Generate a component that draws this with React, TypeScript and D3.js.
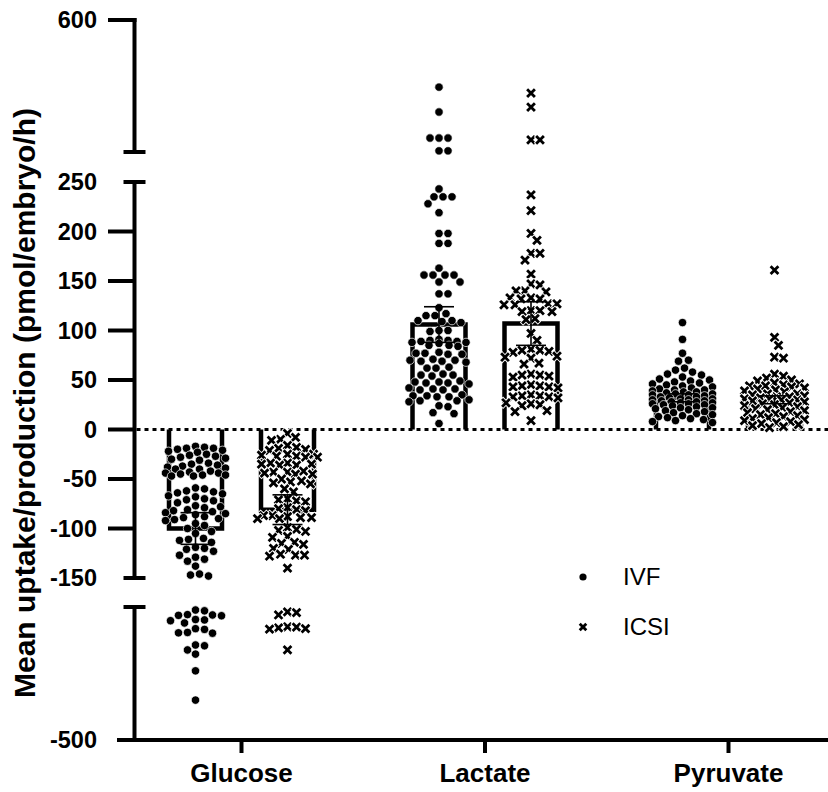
import { useMemo } from "react";
import * as d3 from "d3";

const CATEGORIES = ["Glucose", "Lactate", "Pyruvate"];
const GROUPS = ["IVF", "ICSI"];

// individual embryo values, pmol/embryo/h
const GLUCOSE_IVF = [
  -17, -18, -19, -19, -20, -21, -22, -23, -25, -26, -27, -28, -29, -30, -31,
  -34, -35, -36, -37, -38, -39, -40, -40, -42, -43, -44, -44, -45, -46, -46,
  -47, -47, -59, -60, -62, -63, -64, -65, -67, -68, -70, -71, -72, -74, -77,
  -78, -79, -81, -82, -83, -84, -85, -86, -88, -89, -90, -91, -92, -95, -97,
  -100, -103, -105, -110, -111, -112, -114, -119, -120, -121, -123, -127,
  -129, -131, -133, -138, -146, -147, -148, -158, -160, -170, -171, -172,
  -173, -183, -184, -186, -192, -207, -209, -217, -218, -219, -250, -252,
  -263, -274, -318, -395,
];
const GLUCOSE_ICSI = [
  -4, -8, -10, -11, -16, -18, -19, -20, -21, -25, -25, -26, -27, -27, -28,
  -28, -34, -34, -35, -35, -36, -36, -42, -43, -43, -44, -45, -45, -50, -52,
  -53, -54, -55, -60, -63, -70, -71, -72, -73, -79, -80, -81, -82, -87, -87,
  -88, -89, -89, -90, -90, -99, -101, -102, -103, -108, -109, -114, -115,
  -116, -120, -121, -126, -127, -127, -128, -140, -163, -165, -171, -202,
  -203, -205, -207, -208, -263,
];
const LACTATE_IVF = [
  422, 356, 287, 287, 287, 253, 253, 243, 235, 235, 235, 228, 219, 198, 198,
  188, 188, 163, 156, 156, 156, 156, 149, 149, 137, 137, 123, 117, 115, 115,
  110, 110, 109, 108, 100, 100, 99, 91, 90, 90, 89, 89, 88, 88, 87, 85, 85,
  84, 78, 77, 77, 76, 76, 71, 70, 70, 69, 69, 68, 63, 62, 62, 56, 55, 55, 54,
  49, 48, 48, 47, 47, 46, 42, 41, 41, 40, 40, 35, 34, 34, 33, 33, 30, 29, 29,
  28, 24, 23, 17, 16, 6,
];
const LACTATE_ICSI = [
  406, 369, 282, 282, 237, 221, 198, 191, 178, 178, 171, 157, 147, 146, 140,
  140, 139, 133, 133, 132, 132, 127, 127, 126, 126, 120, 120, 119, 119, 112,
  111, 97, 90, 81, 80, 80, 79, 78, 74, 73, 72, 67, 66, 56, 55, 55, 54, 53, 45,
  44, 44, 43, 43, 42, 35, 34, 34, 33, 33, 32, 27, 26, 25, 24, 19, 18, 9,
];
const PYRUVATE_IVF = [
  108, 91, 77, 70, 69, 62, 60, 58, 56, 55, 53, 51, 50, 49, 48, 47, 46, 45, 44,
  43, 42, 41, 40, 40, 39, 38, 38, 37, 36, 36, 35, 35, 34, 33, 33, 32, 31, 31,
  30, 30, 29, 29, 28, 28, 27, 27, 26, 26, 25, 25, 24, 23, 22, 22, 21, 20, 19,
  18, 17, 16, 15, 14, 13, 12, 11, 10, 9, 8, 7,
];
const PYRUVATE_ICSI = [
  161, 93, 85, 73, 72, 56, 54, 52, 50, 49, 47, 46, 45, 44, 44, 43, 42, 41, 40,
  39, 38, 36, 36, 35, 34, 33, 33, 32, 31, 31, 30, 30, 29, 28, 27, 26, 25, 24,
  23, 22, 21, 20, 19, 18, 17, 16, 15, 14, 13, 12, 11, 10, 9, 8, 7, 6, 5, 4, 3,
  2,
];

// bar heights (mean) and error bars, in category order
const IVF_MEAN = [-100, 106, 32];
const IVF_ERR = [16, 18, 4];
const ICSI_MEAN = [-81, 107, 30];
const ICSI_ERR = [15, 22, 4];

const TOP_TICKS = [600];
const BOTTOM_TICKS = [-500];

const W = 828;
const H = 792;
const AXIS_X = 134.5;
const BAR_W = 53;
const R = 4.2;
const FONT = "'Liberation Sans', Arial, sans-serif";

// three pieces of the broken y axis
const yTop = d3.scaleLinear().domain([250, 600]).range([152, 20]);
const yMid = d3.scaleLinear().domain([-150, 250]).range([578, 182]);
const yBot = d3.scaleLinear().domain([-500, -150]).range([740, 607]);
const y = (v: number) => (v > 250 ? yTop(v) : v >= -150 ? yMid(v) : yBot(v));

// simple beeswarm: offsets in px so markers don't sit on each other
function swarm(ys: number[], minDist: number, maxOff: number): number[] {
  const order = ys.map((_, i) => i).sort((a, b) => ys[a] - ys[b]);
  const placed: [number, number][] = [];
  const xs = new Array(ys.length).fill(0);
  for (const i of order) {
    const py = ys[i];
    let best = 0;
    let bestPen = Infinity;
    for (let k = 0; k <= maxOff * 2; k++) {
      const off = k % 2 === 1 ? (k + 1) / 2 : -k / 2;
      let pen = 0;
      for (const [qx, qy] of placed) {
        if (Math.abs(qy - py) >= minDist) continue;
        const d = Math.hypot(qx - off, qy - py);
        if (d < minDist) pen += minDist - d;
      }
      if (pen < bestPen - 1e-9) {
        bestPen = pen;
        best = off;
      }
      if (pen === 0) break;
    }
    xs[i] = best;
    placed.push([best, py]);
  }
  return xs;
}

const crossPath = (s: number) => `M${-s},${-s}L${s},${s}M${-s},${s}L${s},${-s}`;

function Dot({ x, y }: { x: number; y: number }) {
  return <circle cx={x} cy={y} r={R} fill="#000" stroke="#fff" strokeWidth={0.7} />;
}

function Cross({ x, y, s = 2.9 }: { x: number; y: number; s?: number }) {
  return (
    <g transform={`translate(${x},${y})`}>
      <path d={crossPath(s)} stroke="#fff" strokeWidth={4.6} strokeLinecap="square" />
      <path d={crossPath(s)} stroke="#000" strokeWidth={2.8} strokeLinecap="square" />
    </g>
  );
}

export default function App() {
  const xCat = d3.scalePoint().domain(CATEGORIES).range([241.5, 728.5]);
  const xSub = d3.scalePoint().domain(GROUPS).range([-46, 46]);

  const series = [
    { group: "IVF", values: [GLUCOSE_IVF, LACTATE_IVF, PYRUVATE_IVF], mean: IVF_MEAN, err: IVF_ERR },
    { group: "ICSI", values: [GLUCOSE_ICSI, LACTATE_ICSI, PYRUVATE_ICSI], mean: ICSI_MEAN, err: ICSI_ERR },
  ];

  const points = useMemo(
    () =>
      series.flatMap((s) =>
        CATEGORIES.map((cat, ci) => {
          const cx = (xCat(cat) ?? 0) + (xSub(s.group) ?? 0);
          const ys = s.values[ci].map(y);
          const offs = swarm(ys, 2 * R + 0.4, 30);
          return { group: s.group, cat, pts: ys.map((py, i) => ({ x: cx + offs[i], y: py })) };
        }),
      ),
    [],
  );

  const midTicks = yMid.ticks(8);
  const y0 = y(0);

  return (
    <svg
      width={W}
      height={H}
      style={{ position: "absolute", left: 0, top: 0, background: "#fff" }}
      fontFamily={FONT}
    >
      {/* bars */}
      {series.map((s) =>
        CATEGORIES.map((cat, ci) => {
          const cx = (xCat(cat) ?? 0) + (xSub(s.group) ?? 0);
          const x0 = cx - BAR_W / 2;
          const x1 = cx + BAR_W / 2;
          const yt = y(s.mean[ci]);
          return (
            <g key={`bar-${s.group}-${cat}`}>
              <rect x={x0} y={Math.min(yt, y0)} width={BAR_W} height={Math.abs(yt - y0)} fill="#fff" />
              <path
                d={`M${x0},${y0}L${x0},${yt}L${x1},${yt}L${x1},${y0}`}
                fill="none"
                stroke="#000"
                strokeWidth={4.5}
              />
            </g>
          );
        }),
      )}

      {/* zero line */}
      <line
        x1={AXIS_X + 2}
        x2={W}
        y1={y0}
        y2={y0}
        stroke="#000"
        strokeWidth={3}
        strokeDasharray="4 4"
      />

      {/* individual points */}
      {points.map((g) =>
        g.pts.map((p, i) =>
          g.group === "IVF" ? (
            <Dot key={`${g.group}-${g.cat}-${i}`} x={p.x} y={p.y} />
          ) : (
            <Cross key={`${g.group}-${g.cat}-${i}`} x={p.x} y={p.y} />
          ),
        ),
      )}

      {/* error bars */}
      {series.map((s) =>
        CATEGORIES.map((cat, ci) => {
          const cx = (xCat(cat) ?? 0) + (xSub(s.group) ?? 0);
          const lo = y(s.mean[ci] - s.err[ci]);
          const hi = y(s.mean[ci] + s.err[ci]);
          return (
            <g key={`err-${s.group}-${cat}`} stroke="#000" strokeWidth={1.6}>
              <line x1={cx} x2={cx} y1={lo} y2={hi} />
              <line x1={cx - 15} x2={cx + 15} y1={lo} y2={lo} />
              <line x1={cx - 15} x2={cx + 15} y1={hi} y2={hi} />
            </g>
          );
        }),
      )}

      {/* y axis pieces */}
      <g stroke="#000" strokeWidth={4}>
        <line x1={AXIS_X} x2={AXIS_X} y1={yTop.range()[1] - 2} y2={yTop.range()[0]} />
        <line x1={AXIS_X} x2={AXIS_X} y1={yMid.range()[1]} y2={yMid.range()[0]} />
        <line x1={AXIS_X} x2={AXIS_X} y1={yBot.range()[1]} y2={yBot.range()[0]} />
        {[yTop.range()[0], yMid.range()[1], yMid.range()[0], yBot.range()[1]].map((py) => (
          <line key={`cap-${py}`} x1={AXIS_X - 11} x2={AXIS_X + 11} y1={py} y2={py} />
        ))}
        {TOP_TICKS.map((t) => (
          <line key={`tt-${t}`} x1={108} x2={AXIS_X + 2} y1={yTop(t)} y2={yTop(t)} />
        ))}
        {midTicks
          .filter((t) => t > -150 && t < 250)
          .map((t) => (
            <line key={`mt-${t}`} x1={108} x2={AXIS_X} y1={yMid(t)} y2={yMid(t)} />
          ))}
        {BOTTOM_TICKS.map((t) => (
          <line key={`bt-${t}`} x1={117} x2={AXIS_X} y1={yBot(t)} y2={yBot(t)} />
        ))}
        {/* x axis */}
        <line x1={117} x2={W} y1={yBot(-500)} y2={yBot(-500)} />
        {CATEGORIES.map((c) => (
          <line key={`xt-${c}`} x1={xCat(c)} x2={xCat(c)} y1={yBot(-500)} y2={yBot(-500) + 13} />
        ))}
      </g>

      {/* tick labels */}
      <g fontSize={23.5} fontWeight="bold" textAnchor="end">
        {TOP_TICKS.map((t) => (
          <text key={`tl-${t}`} x={97} y={yTop(t)} dy="0.35em">{t}</text>
        ))}
        {midTicks.map((t) => (
          <text key={`ml-${t}`} x={97} y={yMid(t)} dy="0.35em">{t}</text>
        ))}
        {BOTTOM_TICKS.map((t) => (
          <text key={`bl-${t}`} x={97} y={yBot(t)} dy="0.35em">{t}</text>
        ))}
      </g>

      {/* category labels */}
      <g fontSize={26} fontWeight="bold" textAnchor="middle">
        {CATEGORIES.map((c) => (
          <text key={`cl-${c}`} x={xCat(c)} y={782}>{c}</text>
        ))}
      </g>

      {/* y title */}
      <text
        transform="translate(24,403) rotate(-90)"
        textAnchor="middle"
        dy="0.35em"
        fontSize={30}
        fontWeight="bold"
      >
        Mean uptake/production (pmol/embryo/h)
      </text>

      {/* legend */}
      <g fontSize={24}>
        <circle cx={583} cy={577} r={3.6} fill="#000" />
        <text x={623} y={577} dy="0.35em">IVF</text>
        <Cross x={583} y={627} s={2.3} />
        <text x={623} y={627} dy="0.35em">ICSI</text>
      </g>
    </svg>
  );
}
